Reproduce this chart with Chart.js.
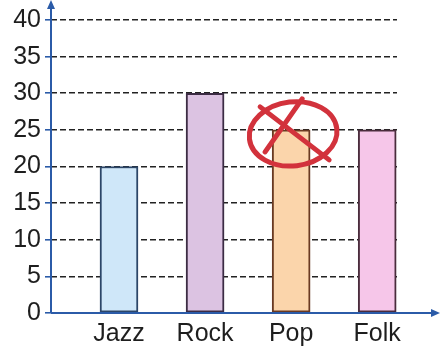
<!DOCTYPE html>
<html>
<head>
<meta charset="utf-8">
<script src="https://cdn.jsdelivr.net/npm/chart.js@4/dist/chart.umd.min.js"></script>
<style>
  html,body{margin:0;padding:0;background:#fff}
  #wrap{width:440px;height:352px;position:relative}
</style>
</head>
<body>
<div id="wrap"><canvas id="chart"></canvas></div>
<script>
// ─── DATA ───────────────────────────────────────────────────────────
const genres = ['Jazz','Rock','Pop','Folk'];
const votes = [20,30,25,25];
const fills = ['#cfe7f9','#dcc3e2','#fbd5ab','#f6c6e9'];
const edges = ['#2c4668','#3c2c44','#6a3a22','#4a2c3c'];
const yTicks = [0,5,10,15,20,25,30,35,40];
const crossedOut = 'Pop';

const AXIS_BLUE = '#2b5ba8';
const FONT = '"Liberation Sans", Arial, sans-serif';

// blue axes with arrow heads, drawn over the grid
const axesPlugin = {
  id:'axes',
  afterDatasetsDraw(chart){
    const {ctx, chartArea:a} = chart;
    ctx.save();
    ctx.strokeStyle = AXIS_BLUE; ctx.fillStyle = AXIS_BLUE; ctx.lineWidth = 2;
    ctx.beginPath();
    ctx.moveTo(a.left, a.bottom); ctx.lineTo(a.left, 6);
    ctx.moveTo(a.left, a.bottom); ctx.lineTo(chart.width-4, a.bottom);
    ctx.stroke();
    ctx.beginPath();
    ctx.moveTo(a.left, 0); ctx.lineTo(a.left-4, 9); ctx.lineTo(a.left+4, 9); ctx.closePath();
    ctx.moveTo(chart.width, a.bottom); ctx.lineTo(chart.width-9, a.bottom-4); ctx.lineTo(chart.width-9, a.bottom+4); ctx.closePath();
    ctx.fill();
    ctx.restore();
  }
};

// red pen mark circling and crossing out one bar's top
const penPlugin = {
  id:'pen',
  afterDraw(chart){
    const i = genres.indexOf(crossedOut);
    const bar = chart.getDatasetMeta(0).data[i];
    if(!bar) return;
    const cx = bar.x+2, cy = bar.y+4;
    const ctx = chart.ctx;
    ctx.save();
    ctx.strokeStyle = '#d2323c'; ctx.lineWidth = 5; ctx.lineCap = 'round';
    ctx.beginPath();
    ctx.ellipse(cx, cy, 44, 32, -0.12, 0, Math.PI*2);
    ctx.stroke();
    ctx.beginPath();
    ctx.moveTo(cx-33, cy-27); ctx.lineTo(cx+36, cy+26);
    ctx.moveTo(cx+9, cy-35); ctx.lineTo(cx-28, cy+18);
    ctx.stroke();
    ctx.restore();
  }
};

new Chart(document.getElementById('chart'),{
  type:'bar',
  data:{
    datasets:[{
      data:genres.map((g,i)=>({x:i+1,y:votes[i]})),
      backgroundColor:fills,
      borderColor:edges,
      borderWidth:2,
      borderSkipped:false,
      barThickness:38
    }]
  },
  options:{
    responsive:true,maintainAspectRatio:false,animation:false,
    layout:{padding:{top:20,right:43,left:12,bottom:0}},
    plugins:{legend:{display:false},tooltip:{enabled:false}},
    scales:{
      x:{
        type:'linear',min:0.21,max:4.23,offset:false,
        afterBuildTicks:s=>{s.ticks=genres.map((_,i)=>({value:i+1}));},
        afterFit:s=>{s.height=39;},
        grid:{display:false,drawTicks:false},border:{display:false},
        ticks:{callback:v=>genres[v-1]||'',color:'#1e1e1e',padding:6,autoSkip:false,maxRotation:0,
          font:{family:FONT,size:25}}
      },
      y:{
        min:0,max:40,
        afterBuildTicks:s=>{s.ticks=yTicks.map(v=>({value:v}));},
        afterFit:s=>{s.width=39;},
        border:{display:false,dash:[6,3]},
        grid:{color:'#222',lineWidth:1.6,tickColor:AXIS_BLUE,tickLength:6,tickBorderDash:[]},
        ticks:{color:'#1e1e1e',padding:4,font:{family:FONT,size:25}}
      }
    }
  },
  plugins:[axesPlugin,penPlugin]
});
</script>
</body>
</html>
